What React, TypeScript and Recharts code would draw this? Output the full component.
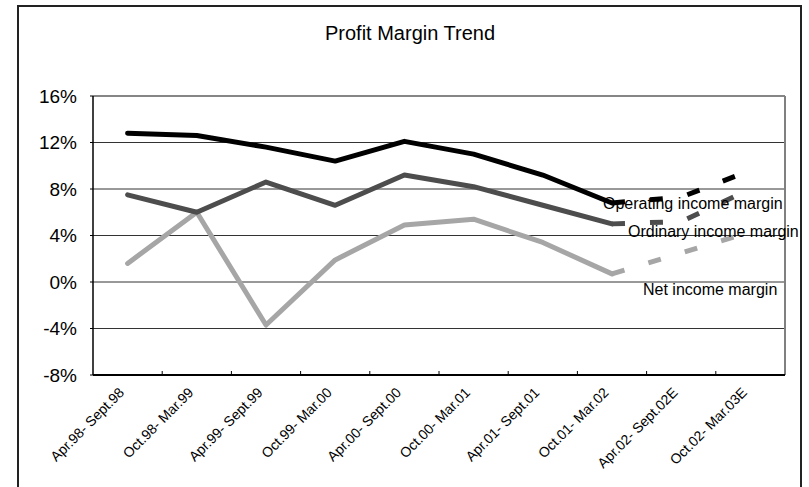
import React from 'react';
import { LineChart, Line, XAxis, YAxis, CartesianGrid, ReferenceLine } from 'recharts';

const categories = [
  'Apr.98- Sept.98',
  'Oct.98- Mar.99',
  'Apr.99- Sept.99',
  'Oct.99- Mar.00',
  'Apr.00- Sept.00',
  'Oct.00- Mar.01',
  'Apr.01- Sept.01',
  'Oct.01- Mar.02',
  'Apr.02- Sept.02E',
  'Oct.02- Mar.03E',
];
const operatingMargin = [12.8, 12.6, 11.6, 10.4, 12.1, 11.0, 9.2, 6.8, 7.3, 9.6];
const ordinaryMargin = [7.5, 6.0, 8.6, 6.6, 9.2, 8.2, 6.6, 5.0, 5.2, 8.0];
const netMargin = [1.6, 6.0, -3.7, 1.9, 4.9, 5.4, 3.4, 0.7, 2.5, 4.3];
const lastActualIndex = 7;
const yTicks = [-8, -4, 0, 4, 8, 12, 16];
const categoryTicks = categories.map((_, i) => i);
const title = 'Profit Margin Trend';
const seriesLabels = ['Operating income margin', 'Ordinary income margin', 'Net income margin'];

const FONT = '"Liberation Sans", Arial, Helvetica, sans-serif';

const CHART_W = 809;
const CHART_H = 487;
const MARGIN = { top: 96, right: 24, bottom: 0, left: 0 };
const Y_AXIS_W = 93;
const PLOT_W = CHART_W - MARGIN.left - MARGIN.right - Y_AXIS_W;
const HALF_BAND = PLOT_W / categories.length / 2;

const rows = categories.map((c, i) => ({
  i,
  opA: i <= lastActualIndex ? operatingMargin[i] : null,
  opE: i >= lastActualIndex ? operatingMargin[i] : null,
  ordA: i <= lastActualIndex ? ordinaryMargin[i] : null,
  ordE: i >= lastActualIndex ? ordinaryMargin[i] : null,
  netA: i <= lastActualIndex ? netMargin[i] : null,
  netE: i >= lastActualIndex ? netMargin[i] : null,
}));

const XTick = (props: any) => {
  const { x, y, payload } = props;
  const ax = x - 2.5;
  const ay = y + 18.5;
  const isLast = payload.value === categories.length - 1;
  return (
    <g>
      {!isLast && (
        <line x1={x + HALF_BAND} x2={x + HALF_BAND} y1={y} y2={y - 4} stroke="#000" strokeWidth={1} />
      )}
      <text
        x={ax}
        y={ay}
        transform={`rotate(-45 ${ax} ${ay})`}
        textAnchor="end"
        fontSize={14}
        fontFamily={FONT}
        fill="#000"
      >
        {categories[payload.value]}
      </text>
    </g>
  );
};

const OP_COLOR = '#000000';
const ORD_COLOR = '#4d4d4d';
const NET_COLOR = '#a6a6a6';
const DASH = '13 25';

export default function App() {
  return (
    <div
      style={{
        position: 'absolute',
        left: 0,
        top: 0,
        width: CHART_W,
        height: CHART_H,
        overflow: 'hidden',
        background: '#fff',
      }}
    >
      <div
        style={{
          position: 'absolute',
          left: 17,
          top: 5,
          width: 785,
          height: 520,
          border: '2px solid #222',
          boxSizing: 'border-box',
        }}
      />
      <div style={{ position: 'absolute', left: 0, top: 0 }}>
        <LineChart width={CHART_W} height={CHART_H} data={rows} margin={MARGIN}>
          <CartesianGrid vertical={false} stroke="#333" strokeWidth={1} />
          <XAxis
            dataKey="i"
            type="number"
            domain={[-0.5, 9.5]}
            ticks={categoryTicks}
            interval={0}
            allowDataOverflow
            height={112}
            tickSize={0}
            tickMargin={0}
            tickLine={false}
            axisLine={{ stroke: '#000', strokeWidth: 2 }}
            tick={<XTick />}
          />
          <YAxis
            type="number"
            domain={[-8, 16]}
            ticks={yTicks}
            interval={0}
            allowDataOverflow
            width={Y_AXIS_W}
            tickSize={3}
            tickMargin={13}
            tickFormatter={(v: number) => `${v}%`}
            tick={{ fontSize: 19, fontFamily: FONT, fill: '#000' }}
            tickLine={{ stroke: '#000' }}
            axisLine={{ stroke: '#000', strokeWidth: 1.5 }}
          />
          <ReferenceLine y={16} stroke="#808080" strokeWidth={1.5} />
          <ReferenceLine x={9.5} stroke="#808080" strokeWidth={2} />

          <Line dataKey="netA" type="linear" stroke={NET_COLOR} strokeWidth={5} dot={false} activeDot={false} strokeLinecap="round" strokeLinejoin="round" isAnimationActive={false} />
          <Line dataKey="netE" type="linear" stroke={NET_COLOR} strokeWidth={5} dot={false} activeDot={false} strokeDasharray={DASH} strokeLinecap="butt" isAnimationActive={false} />
          <Line dataKey="ordA" type="linear" stroke={ORD_COLOR} strokeWidth={5} dot={false} activeDot={false} strokeLinecap="round" strokeLinejoin="round" isAnimationActive={false} />
          <Line dataKey="ordE" type="linear" stroke={ORD_COLOR} strokeWidth={5} dot={false} activeDot={false} strokeDasharray={DASH} strokeLinecap="butt" isAnimationActive={false} />
          <Line dataKey="opA" type="linear" stroke={OP_COLOR} strokeWidth={5} dot={false} activeDot={false} strokeLinecap="round" strokeLinejoin="round" isAnimationActive={false} />
          <Line dataKey="opE" type="linear" stroke={OP_COLOR} strokeWidth={5} dot={false} activeDot={false} strokeDasharray={DASH} strokeLinecap="butt" isAnimationActive={false} />
        </LineChart>
      </div>
      <svg
        width={CHART_W}
        height={CHART_H}
        style={{ position: 'absolute', left: 0, top: 0, pointerEvents: 'none' }}
      >
        <text x={410} y={40} textAnchor="middle" fontSize={20} fontFamily={FONT} fill="#000">
          {title}
        </text>
        <text x={603} y={208.5} fontSize={16} fontFamily={FONT} fill="#000">
          {seriesLabels[0]}
        </text>
        <text x={628} y={237} fontSize={16} fontFamily={FONT} fill="#000">
          {seriesLabels[1]}
        </text>
        <text x={643} y={295} fontSize={16} fontFamily={FONT} fill="#000">
          {seriesLabels[2]}
        </text>
      </svg>
    </div>
  );
}
